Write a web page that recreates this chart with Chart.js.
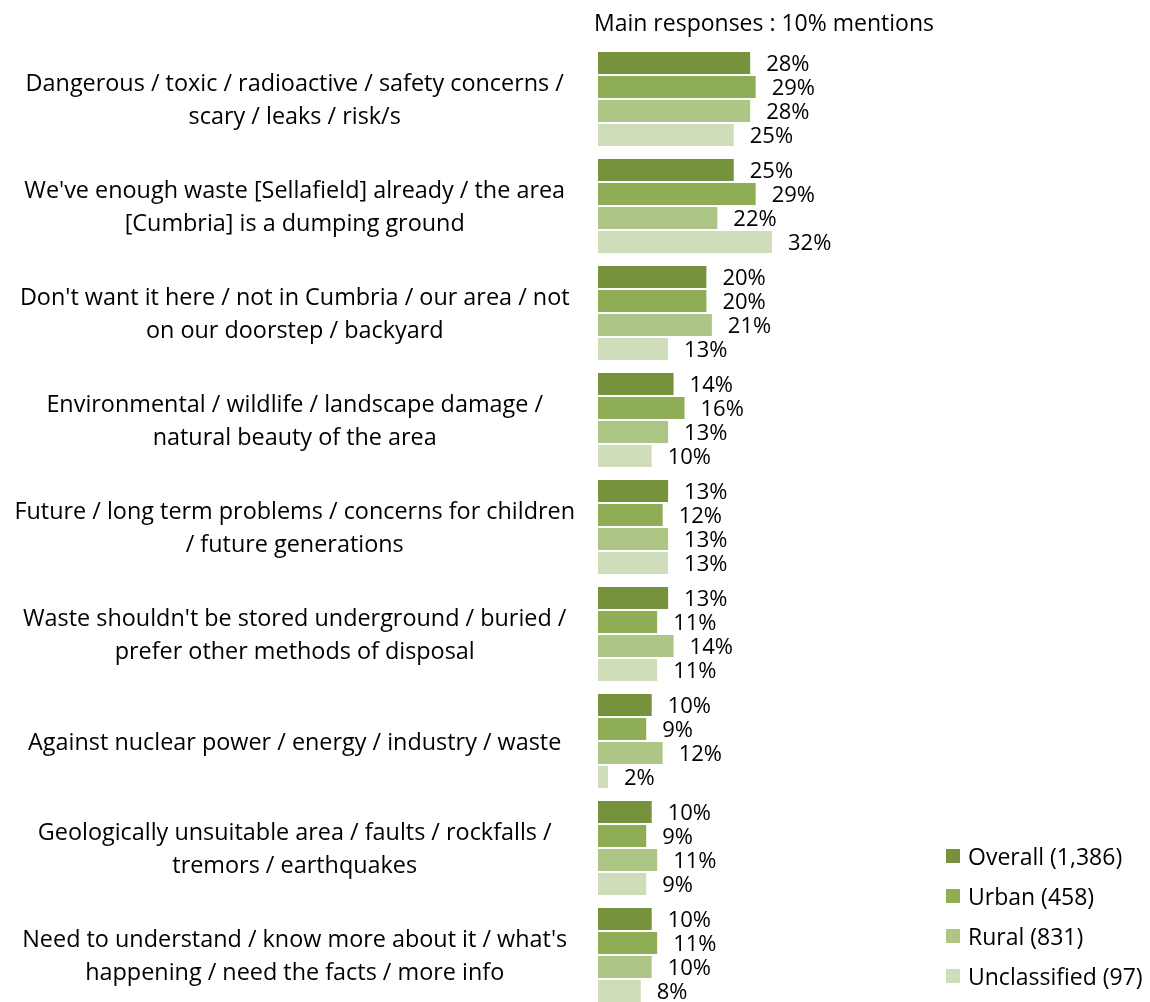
<!DOCTYPE html>
<html>
<head>
<meta charset="utf-8">
<script src="https://cdn.jsdelivr.net/npm/chart.js@4"></script>
<style>
    body { margin: 0; overflow: hidden; background: #fff; font-family: "Open Sans", sans-serif; }
    #wrap { position: relative; width: 1150px; height: 1010px; }
    #title { position: absolute; left: 594px; top: 6px; font-size: 23px; color: #000; white-space: nowrap; }
    #legend { position: absolute; left: 946px; top: 836px; font-size: 23px; color: #000; }
    #legend div { height: 40px; display: flex; align-items: center; white-space: nowrap; }
    #legend span.sw { display: inline-block; width: 14px; height: 14px; margin-right: 8px; }
</style>
</head>
<body>
<div id="wrap">
    <canvas id="responsesChart"></canvas>
    <div id="title">Main responses : 10% mentions</div>
    <div id="legend"></div>
</div>
<script>
const categories = [
    ["Dangerous / toxic / radioactive / safety concerns /", "scary / leaks / risk/s"],
    ["We've enough waste [Sellafield] already / the area", "[Cumbria] is a dumping ground"],
    ["Don't want it here / not in Cumbria / our area / not", "on our doorstep / backyard"],
    ["Environmental / wildlife / landscape damage /", "natural beauty of the area"],
    ["Future / long term problems / concerns for children", "/ future generations"],
    ["Waste shouldn't be stored underground / buried /", "prefer other methods of disposal"],
    "Against nuclear power / energy / industry / waste",
    ["Geologically unsuitable area / faults / rockfalls /", "tremors / earthquakes"],
    ["Need to understand / know more about it / what's", "happening / need the facts / more info"]
];
const seriesNames = ["Overall (1,386)", "Urban (458)", "Rural (831)", "Unclassified (97)"];
const overall = [28, 25, 20, 14, 13, 13, 10, 10, 10];
const urban = [29, 29, 20, 16, 12, 11, 9, 9, 11];
const rural = [28, 22, 21, 13, 13, 14, 12, 11, 10];
const unclassified = [25, 32, 13, 10, 13, 11, 2, 9, 8];
const colors = ['#77923d', '#8fad54', '#adc685', '#d0ddbb'];

const ctx = document.getElementById('responsesChart');

// value labels to the right of every bar
const barLabels = {
    id: 'barLabels',
    afterDatasetsDraw(chart) {
        const c = chart.ctx;
        c.save();
        c.font = '22px "Open Sans"';
        c.fillStyle = '#000';
        c.textAlign = 'left';
        c.textBaseline = 'middle';
        chart.data.datasets.forEach((ds, i) => {
            chart.getDatasetMeta(i).data.forEach((bar, j) => {
                c.fillText(ds.data[j] + '%', bar.x + 15, bar.y + 2);
            });
        });
        c.restore();
    }
};

const seriesData = [overall, urban, rural, unclassified];
const datasets = seriesData.map((d, index) => {
    return {
        label: seriesNames[index],
        data: d,
        backgroundColor: colors[index],
        borderColor: 'rgba(255,255,255,0.55)',
        borderWidth: 1,
        barPercentage: 1,
        categoryPercentage: 0.897
    };
});

new Chart(ctx, {
    type: 'bar',
    data: {
        labels: categories,
        datasets: datasets
    },
    options: {
        indexAxis: 'y',
        responsive: true,
        maintainAspectRatio: false,
        animation: false,
        layout: {
            padding: { top: 45.5, bottom: 1.5, right: 5, left: 0 }
        },
        scales: {
            x: {
                min: 0,
                max: 100,
                display: false
            },
            y: {
                grid: { display: false },
                border: { display: false },
                afterFit: function (scale) {
                    scale.width = 598;
                    scale.paddingTop = 0;
                    scale.paddingBottom = 0;
                },
                ticks: {
                    crossAlign: 'center',
                    padding: 15,
                    labelOffset: 2,
                    color: '#000',
                    font: { family: 'Open Sans', size: 23.4, lineHeight: 1.41 }
                }
            }
        },
        plugins: {
            legend: { display: false },
            tooltip: { enabled: false }
        }
    },
    plugins: [barLabels]
});

document.getElementById('legend').innerHTML = seriesNames
    .map((n, i) => '<div><span class="sw" style="background:' + colors[i] + '"></span>' + n + '</div>')
    .join('');
</script>
</body>
</html>
